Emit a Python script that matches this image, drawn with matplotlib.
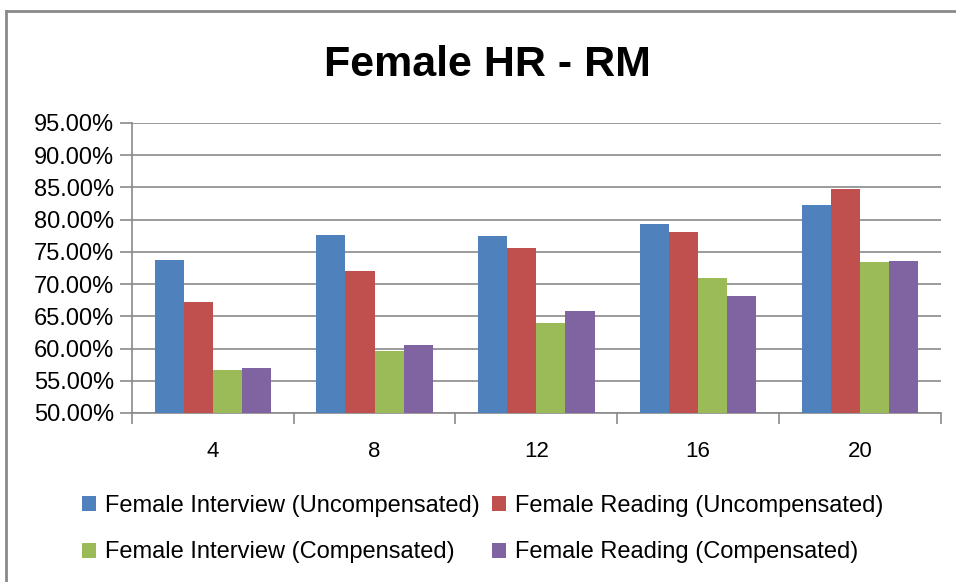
import numpy as np
import matplotlib
matplotlib.use('Agg')
import matplotlib.pyplot as plt
from matplotlib.lines import Line2D
from matplotlib.ticker import FuncFormatter

plt.rcParams['font.family'] = ['Liberation Sans Narrow', 'Liberation Sans', 'DejaVu Sans']

# data
weeks = ['4', '8', '12', '16', '20']
series_names = ['Female Interview (Uncompensated)', 'Female Reading (Uncompensated)',
                'Female Interview (Compensated)', 'Female Reading (Compensated)']
interview_unc = [73.7, 77.6, 77.4, 79.3, 82.3]
reading_unc = [67.2, 72.0, 75.6, 78.1, 84.7]
interview_comp = [56.6, 59.6, 64.0, 70.9, 73.4]
reading_comp = [57.0, 60.6, 65.8, 68.2, 73.6]
colors = ['#4F81BD', '#C0504D', '#9BBB59', '#8064A2']

fig = plt.figure(figsize=(9.56, 5.82), dpi=100)
ax = fig.add_axes([0.138, 0.2904, 0.846, 0.4983])

x = np.arange(len(weeks))
w = 0.18
bars = []
for i, (vals, c, name) in enumerate(zip([interview_unc, reading_unc, interview_comp, reading_comp],
                                        colors, series_names)):
    b = ax.bar(x + (i - 1.5) * w, vals, w, color=c, label=name, zorder=3)
    bars.append(b)

ax.set_ylim(50, 95)
ax.set_xlim(-0.5, 4.5)
ax.set_yticks(np.arange(50, 96, 5))
ax.yaxis.set_major_formatter(FuncFormatter(lambda v, p: '%.2f%%' % v))
ax.grid(axis='y', color='#8a8a8a', linewidth=1.2, zorder=0)
ax.set_axisbelow(True)

ax.set_xticks(x)
ax.set_xticklabels(weeks)
ax.set_xticks(np.arange(-0.5, 5, 1), minor=True)
ax.tick_params(axis='x', which='major', length=0, pad=20, labelsize=16)
ax.tick_params(axis='x', which='minor', length=8, color='#8a8a8a', width=1.2)
ax.tick_params(axis='y', length=9, color='#8a8a8a', width=1.2, labelsize=17, pad=4)

for s in ['top', 'right']:
    ax.spines[s].set_visible(False)
for s in ['left', 'bottom']:
    ax.spines[s].set_color('#8a8a8a')
    ax.spines[s].set_linewidth(1.2)

fig.suptitle('Female HR - RM', x=0.51, y=0.888, va='center', fontsize=31, fontweight='bold')

order = [0, 2, 1, 3]
fig.legend([bars[i] for i in order], [series_names[i] for i in order],
           ncol=2, loc='center', bbox_to_anchor=(0.505, 0.091), frameon=False,
           fontsize=17, handlelength=0.6, handleheight=0.6, handletextpad=0.4,
           columnspacing=0.5, labelspacing=1.05)

# outer chart border (cropped at right and bottom)
fig.add_artist(Line2D([6 / 956, 6 / 956], [0, 1 - 11 / 582], transform=fig.transFigure,
                      color='#8a8a8a', linewidth=2))
fig.add_artist(Line2D([6 / 956, 1], [1 - 11 / 582, 1 - 11 / 582], transform=fig.transFigure,
                      color='#8a8a8a', linewidth=2))

fig.savefig('out.png', dpi=100)
